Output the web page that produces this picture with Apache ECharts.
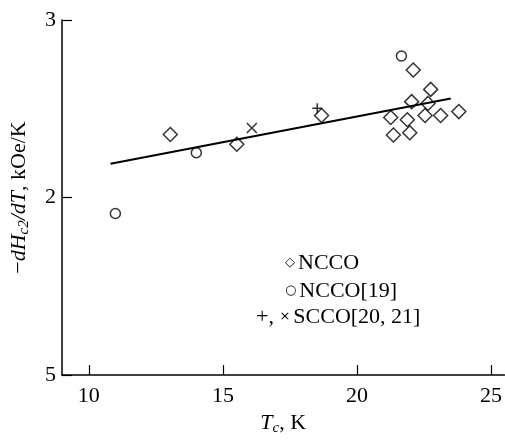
<!DOCTYPE html>
<html>
<head>
<meta charset="utf-8">
<script src="https://cdn.jsdelivr.net/npm/echarts@6/dist/echarts.min.js"></script>
<style>
  html, body { margin: 0; padding: 0; background: #fff; }
  #chart { width: 505px; height: 441px; }
</style>
</head>
<body>
<div id="chart"></div>
<script>
// NCCO (diamonds)
const nccoTc = [13.04, 15.52, 18.68, 21.26, 21.36, 21.88, 21.97, 22.04, 22.10, 22.54, 22.65, 22.75, 23.12, 23.80]
const nccoSlope = [2.355, 2.30, 2.462, 2.451, 2.352, 2.438, 2.365, 2.540, 2.718, 2.462, 2.530, 2.609, 2.462, 2.484]
// NCCO[19] (circles)
const ref19Tc = [10.99, 14.01, 21.66]
const ref19Slope = [1.910, 2.252, 2.797]
// SCCO[20] (+) and SCCO[21] (x)
const plusTc = [18.52]
const plusSlope = [2.503]
const crossTc = [16.08]
const crossSlope = [2.392]
// fitted line ends
const fitTc = [10.81, 23.5]
const fitSlope = [2.19, 2.558]

const xTicks = [10, 15, 20, 25]
const yTickLabels = { 1: '5', 2: '2', 3: '3' }

const zip = (a, b) => a.map((v, i) => [v, b[i]])
const serif = 'Liberation Serif'

const nameRich = {
  i: { fontFamily: serif, fontSize: 22, fontStyle: 'italic', color: '#000' },
  s: { fontFamily: serif, fontSize: 15, fontStyle: 'italic', color: '#000', padding: [10, 0, 0, 0] },
  n: { fontFamily: serif, fontSize: 22, color: '#000' }
}
const legendRich = {
  sym: { fontFamily: 'DejaVu Sans', fontSize: 13, color: '#000', padding: [0, 3, 0, 0] },
  t: { fontFamily: serif, fontSize: 22, color: '#000' }
}
const tickRich = {
  v: { fontFamily: serif, fontSize: 22, color: '#000' }
}

const chart = echarts.init(document.getElementById('chart'))

chart.setOption({
  animation: false,
  textStyle: { fontFamily: serif },
  grid: { left: 62, right: 0, top: 20, bottom: 59 },
  xAxis: {
    type: 'value',
    min: 9,
    max: 25.5,
    splitLine: { show: false },
    axisLine: { lineStyle: { color: '#000', width: 1.5 } },
    axisTick: { inside: true, length: 10, customValues: xTicks, lineStyle: { color: '#000', width: 1.2 } },
    axisLabel: {
      customValues: xTicks, color: '#000', fontFamily: serif, fontSize: 22, margin: 10,
      formatter: v => '{v|' + v + '}', rich: tickRich
    },
    name: '{i|T}{s|c}{n|, K}',
    nameLocation: 'middle',
    nameGap: 36,
    nameTextStyle: { color: '#000', fontFamily: serif, rich: nameRich }
  },
  yAxis: {
    type: 'value',
    min: 1,
    max: 3,
    interval: 1,
    splitLine: { show: false },
    axisLine: { lineStyle: { color: '#000', width: 1.5 } },
    axisTick: { inside: true, length: 10, lineStyle: { color: '#000', width: 1.2 } },
    axisLabel: {
      color: '#000', fontFamily: serif, fontSize: 22, margin: 6,
      formatter: v => '{v|' + (yTickLabels[v] || '') + '}', rich: tickRich
    },
    name: '{n|−}{i|dH}{s|c2}{i|/dT}{n|, kOe/K}',
    nameLocation: 'middle',
    nameGap: 30,
    nameTextStyle: { color: '#000', fontFamily: serif, rich: nameRich }
  },
  graphic: [
    { type: 'text', left: 285, top: 252, style: { text: '{sym|◇}{t|NCCO}', rich: legendRich } },
    { type: 'text', left: 285, top: 280, style: { text: '{sym|○}{t|NCCO[19]}', rich: legendRich } },
    { type: 'text', left: 256, top: 306, style: { text: '{t|+, }{sym|×}{t|SCCO[20, 21]}', rich: legendRich } }
  ],
  series: [
    {
      type: 'line',
      data: zip(fitTc, fitSlope),
      symbol: 'none',
      lineStyle: { color: '#000', width: 2 },
      z: 1
    },
    {
      type: 'scatter',
      data: zip(nccoTc, nccoSlope),
      symbol: 'diamond',
      symbolSize: 14,
      itemStyle: { color: 'rgba(0,0,0,0)', borderColor: '#000', borderWidth: 1.5 },
      z: 2
    },
    {
      type: 'scatter',
      data: zip(ref19Tc, ref19Slope),
      symbol: 'circle',
      symbolSize: 10,
      itemStyle: { color: 'rgba(0,0,0,0)', borderColor: '#000', borderWidth: 1.5 },
      z: 2
    },
    {
      type: 'scatter',
      data: zip(plusTc, plusSlope),
      symbol: 'path://M5,0L5,10M0,5L10,5',
      symbolSize: 10,
      itemStyle: { color: 'rgba(0,0,0,0)', borderColor: '#000', borderWidth: 1.5 },
      z: 2
    },
    {
      type: 'scatter',
      data: zip(crossTc, crossSlope),
      symbol: 'path://M0,0L10,10M10,0L0,10',
      symbolSize: 10,
      itemStyle: { color: 'rgba(0,0,0,0)', borderColor: '#000', borderWidth: 1.5 },
      z: 2
    }
  ]
})
</script>
</body>
</html>
